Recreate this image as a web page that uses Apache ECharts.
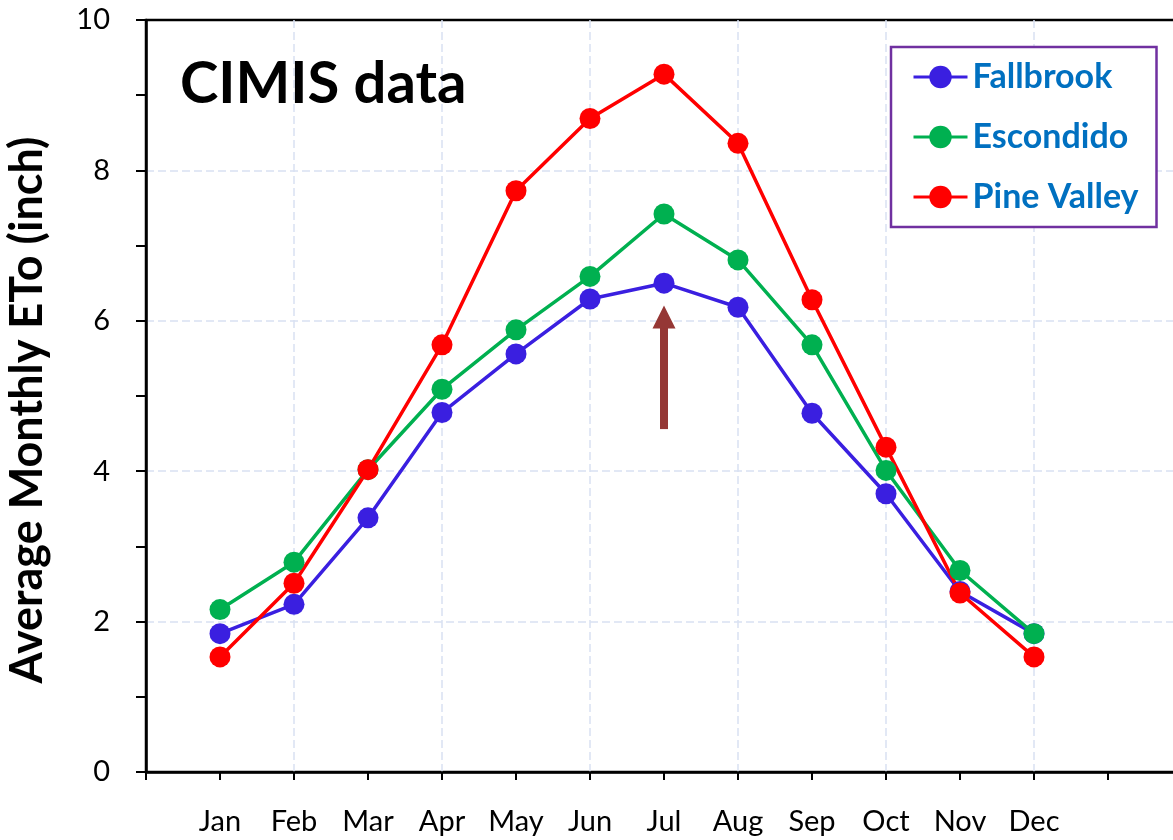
<!DOCTYPE html>
<html>
<head>
<meta charset="utf-8">
<script src="https://cdn.jsdelivr.net/npm/echarts@6/dist/echarts.min.js"></script>
<style>
    html, body { margin: 0; padding: 0; background: #fff; }
    #chart { width: 1173px; height: 840px; }
</style>
</head>
<body>
<div id="chart"></div>
<script>
// Monthly average ETo (inch)
const months = ['Jan', 'Feb', 'Mar', 'Apr', 'May', 'Jun', 'Jul', 'Aug', 'Sep', 'Oct', 'Nov', 'Dec']
const fallbrook = [1.84, 2.23, 3.38, 4.78, 5.56, 6.29, 6.50, 6.18, 4.77, 3.70, 2.40, 1.84]
const escondido = [2.16, 2.79, 4.02, 5.09, 5.88, 6.59, 7.42, 6.81, 5.68, 4.01, 2.68, 1.84]
const pineValley = [1.53, 2.51, 4.02, 5.68, 7.73, 8.69, 9.28, 8.36, 6.28, 4.32, 2.38, 1.53]
const yTicks = [0, 2, 4, 6, 8, 10]

// arrow pointing up at the July Fallbrook value
const arrowMonth = 7
const arrowFrom = 4.56
const arrowTo = 6.05

const FONT = 'Lato'

const stations = [
    { name: 'Fallbrook', color: '#3a1fe0', values: fallbrook },
    { name: 'Escondido', color: '#00b050', values: escondido },
    { name: 'Pine Valley', color: '#ff0000', values: pineValley }
]

const chart = echarts.init(document.getElementById('chart'))

const series = stations.map(s => ({
    name: s.name,
    type: 'line',
    data: s.values.map((v, i) => [i + 1, v]),
    symbol: 'circle',
    symbolSize: 21,
    itemStyle: { color: s.color },
    lineStyle: { color: s.color, width: 3.5 },
    emphasis: { disabled: true },
    z: 3
}))

series.push({
    name: 'arrow',
    type: 'line',
    data: [],
    silent: true,
    markLine: {
        silent: true,
        symbol: ['none', 'triangle'],
        symbolSize: [23, 23],
        label: { show: false },
        lineStyle: { color: '#953735', width: 8, type: 'solid' },
        emphasis: { disabled: true },
        data: [[
            { coord: [arrowMonth, arrowFrom] },
            { coord: [arrowMonth, arrowTo] }
        ]]
    }
})

const dashed = { color: '#d9e1f2', width: 1.5, type: [8, 4] }

const option = {
    animation: false,
    backgroundColor: '#fff',
    textStyle: { fontFamily: FONT },
    title: {
        text: 'CIMIS data',
        left: 180,
        top: 55,
        padding: 0,
        textStyle: { fontFamily: FONT, fontSize: 58, fontWeight: 'bold', color: '#000' }
    },
    legend: {
        data: stations.map(s => s.name),
        orient: 'vertical',
        left: 891,
        top: 47,
        padding: [13, 18, 13, 21],
        itemGap: 26,
        itemWidth: 54,
        itemHeight: 28,
        borderColor: '#7030a0',
        borderWidth: 2.5,
        backgroundColor: '#fff',
        lineStyle: { width: 3 },
        textStyle: { fontFamily: FONT, fontSize: 34, fontWeight: 'bold', color: '#0070c0' }
    },
    grid: {
        left: 146,
        top: 20,
        width: 1036,
        height: 752,
        containLabel: false,
        outerBoundsMode: 'none',
        show: true,
        borderColor: '#000',
        borderWidth: 2.5
    },
    xAxis: [
        {
            type: 'value',
            min: 0,
            max: 14,
            interval: 1,
            axisLine: { lineStyle: { color: '#000', width: 2.5 } },
            axisTick: { show: true, length: 8, lineStyle: { color: '#000', width: 2 } },
            minorTick: { show: false },
            axisLabel: {
                margin: 35,
                fontFamily: FONT,
                fontSize: 29,
                color: '#000',
                formatter: v => months[v - 1] || ''
            },
            splitLine: { show: false },
            minorSplitLine: { show: false }
        },
        {
            type: 'value',
            position: 'bottom',
            min: 0,
            max: 14,
            interval: 2,
            axisLine: { show: false },
            axisTick: { show: false },
            minorTick: { show: false },
            axisLabel: { show: false },
            splitLine: { show: true, showMinLine: false, showMaxLine: false, lineStyle: dashed },
            minorSplitLine: { show: false }
        }
    ],
    yAxis: {
        type: 'value',
        min: yTicks[0],
        max: yTicks[yTicks.length - 1],
        interval: 2,
        name: 'Average Monthly ETo (inch)',
        nameLocation: 'middle',
        nameGap: 96,
        nameTextStyle: {
            fontFamily: FONT,
            fontSize: 45,
            fontWeight: 'bold',
            color: '#000',
            padding: [0, 28, 0, 0]
        },
        axisLine: { show: true, lineStyle: { color: '#000', width: 2.5 } },
        axisTick: { show: true, length: 10, lineStyle: { color: '#000', width: 2 } },
        minorTick: { show: true, splitNumber: 2, length: 10, lineStyle: { color: '#000', width: 2 } },
        axisLabel: { margin: 36, fontFamily: FONT, fontSize: 29, color: '#000' },
        splitLine: { show: true, showMinLine: false, showMaxLine: false, lineStyle: dashed },
        minorSplitLine: { show: false }
    },
    series: series
}

chart.setOption(option)
</script>
</body>
</html>
